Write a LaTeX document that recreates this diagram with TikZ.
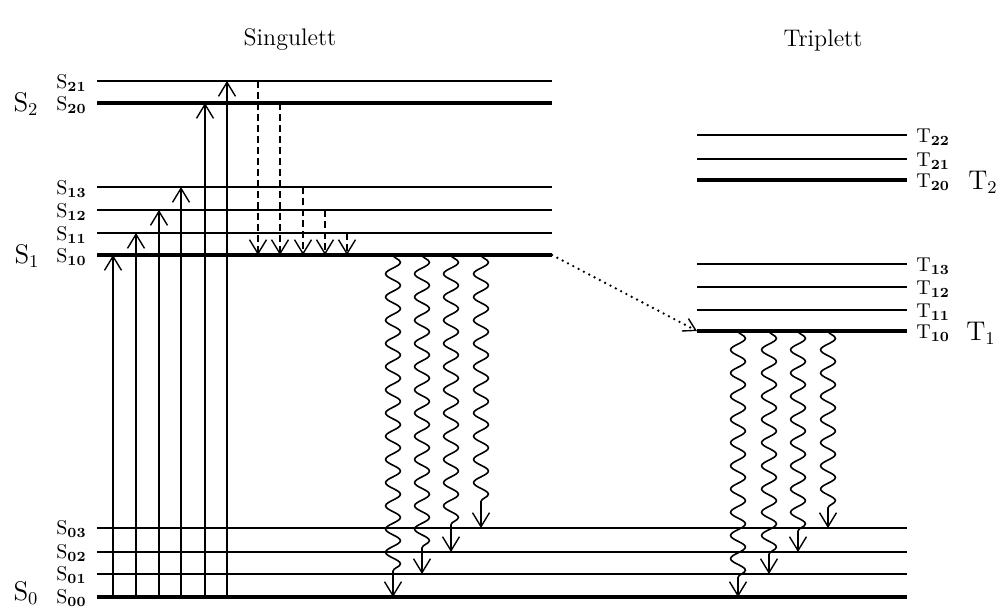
\documentclass[tikz,border=0pt]{standalone}
\usetikzlibrary{arrows.meta,decorations.pathmorphing}
\begin{document}
\begin{tikzpicture}[x=0.5pt,y=-0.5pt,
  thinlvl/.style={line width=0.8pt},
  thicklvl/.style={line width=1.6pt},
  tip/.style={-{Straight Barb[length=7pt,width=8.5pt,line width=0.7pt]}},
  upar/.style={line width=0.7pt,tip},
  dashar/.style={line width=0.8pt,dash pattern=on 3.5pt off 2pt,tip},
  wavy/.style={line width=0.8pt,tip,decorate,
    decoration={snake,segment length=11.6pt,amplitude=3.7pt,post length=9pt}},
  dotar/.style={line width=1.3pt,dash pattern=on 0pt off 3pt,line cap=round,
    -{Straight Barb[length=6pt,width=7pt,line width=0.7pt]}},
  lvllab/.style={font=\fontsize{10}{11}\selectfont,inner sep=0pt},
  biglab/.style={font=\fontsize{13.5}{15}\selectfont,inner sep=0pt},
  title/.style={font=\fontsize{12}{14}\selectfont,inner sep=0pt}]
\useasboundingbox (0,0) rectangle (998,607);

% titles
\node[title] (tsing) at (290,40) {Singulett};
\node[title] (ttrip) at (823,40) {Triplett};

% singlet excited levels
\foreach \n/\y/\st/\lab in {s21/81/thinlvl/21, s20/103/thicklvl/20, s13/187/thinlvl/13,
   s12/210/thinlvl/12, s11/233/thinlvl/11, s10/255/thicklvl/10}{
  \coordinate (\n l) at (97,\y);
  \coordinate (\n r) at (552,\y);
  \draw[\st] (\n l) -- (\n r);
  \node[lvllab,anchor=east] (\n lab) at (87,\y+2) {S$_{\mathbf{\lab}}$};
}
% ground levels
\foreach \n/\y/\st/\lab in {g3/528/thinlvl/03, g2/552/thinlvl/02, g1/574/thinlvl/01, g0/597/thicklvl/00}{
  \coordinate (\n l) at (97,\y);
  \coordinate (\n r) at (907,\y);
  \draw[\st] (\n l) -- (\n r);
  \node[lvllab,anchor=east] (\n lab) at (87,\y+1) {S$_{\mathbf{\lab}}$};
}
% triplet levels
\foreach \n/\y/\st/\lab in {t22/135/thinlvl/22, t21/159/thinlvl/21, t20/180/thicklvl/20,
   t13/264/thinlvl/13, t12/287/thinlvl/12, t11/310/thinlvl/11, t10/331/thicklvl/10}{
  \coordinate (\n l) at (697,\y);
  \coordinate (\n r) at (907,\y);
  \draw[\st] (\n l) -- (\n r);
  \node[lvllab,anchor=west] (\n lab) at (916,\y+2) {T$_{\mathbf{\lab}}$};
}

% big labels
\node[biglab] (S2) at (26,104) {S$_2$};
\node[biglab] (S1) at (27,256) {S$_1$};
\node[biglab] (S0) at (26,593) {S$_0$};
\node[biglab] (T2) at (983,182) {T$_2$};
\node[biglab] (T1) at (981,333) {T$_1$};

% absorption arrows
\foreach \x/\t in {113/s10, 136/s11, 159/s12, 181/s13, 205/s20, 227/s21}{
  \coordinate (a\t) at (\x,0);
  \draw[upar] (a\t |- g0l) -- (a\t |- \t l);
}

% internal conversion (dashed)
\foreach \x/\f in {258/s21, 280/s20, 303/s13, 325/s12, 347/s11}{
  \coordinate (d\f) at (\x,0);
  \draw[dashar] (d\f |- \f l) -- (d\f |- s10l);
}

% fluorescence
\foreach \x/\g in {393/g0, 422/g1, 451/g2, 481/g3}{
  \coordinate (f\g) at (\x,0);
  \draw[wavy] (f\g |- s10l) -- (f\g |- \g l);
}

% intersystem crossing
\draw[dotar] (s10r) -- (t10l);

% phosphorescence
\foreach \x/\g in {738/g0, 769/g1, 798/g2, 828/g3}{
  \coordinate (p\g) at (\x,0);
  \draw[wavy] (p\g |- t10l) -- (p\g |- \g l);
}
\end{tikzpicture}
\end{document}
